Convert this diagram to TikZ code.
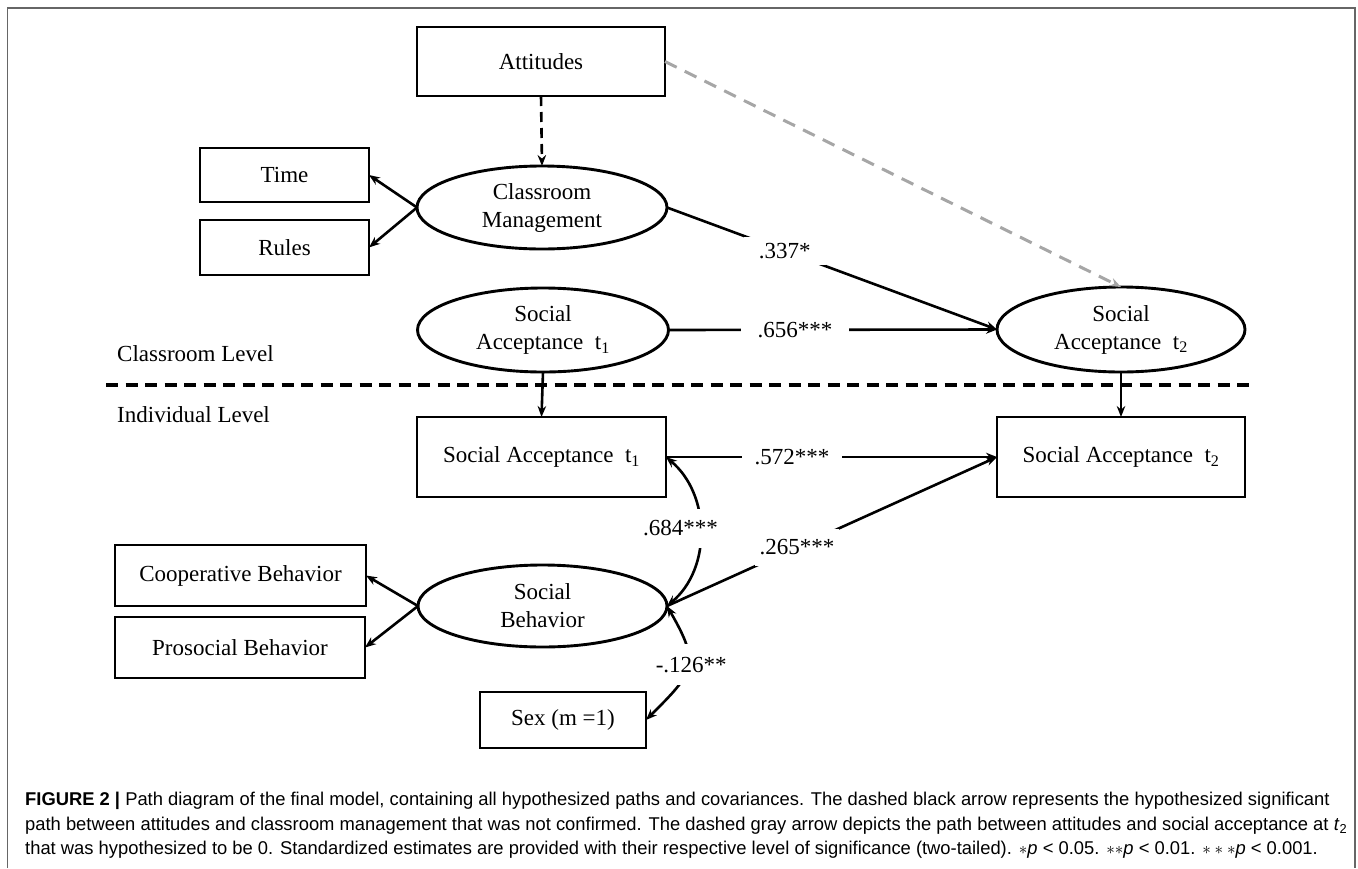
\documentclass[tikz,border=0pt]{standalone}
\usepackage{fontspec}
\usepackage{graphicx}
\setmainfont{Liberation Serif}
\newfontfamily\capfont{Liberation Sans}
\usetikzlibrary{shapes.geometric,arrows.meta}
\newlength\capw
\newcommand\capsz{\capfont\fontsize{18.5}{22}\selectfont}
\newcommand\captwo{path between attitudes and classroom management that was not confirmed. The dashed gray arrow depicts the path between attitudes and social acceptance at \textit{t}\textsubscript{2}}
\begin{document}
\settowidth\capw{\capsz\captwo}%
\pgfmathsetmacro\capxs{1322/(\capw/1pt)}%
\begin{tikzpicture}[x=1pt,y=-1pt,
  every node/.style={font=\fontsize{23}{28}\selectfont},
  box/.style={draw, line width=2.9pt, rectangle, inner sep=0pt, outer sep=0pt, align=center},
  latent/.style={draw, line width=2.9pt, ellipse, inner sep=0pt, outer sep=0pt, align=center},
  tipst/.style={-{Stealth[length=11pt,width=8.5pt]}},
  arr/.style={line width=2.6pt, tipst},
  cov/.style={line width=2.6pt, {Stealth[length=11pt,width=8.5pt]}-{Stealth[length=11pt,width=8.5pt]}},
  estlbl/.style={fill=white, inner xsep=6pt, inner ysep=4pt},
  levellbl/.style={anchor=west, inner sep=0pt},
  capline/.style={anchor=base west, inner sep=0pt},
]
\useasboundingbox (0,0) rectangle (1358,868);
% frame
\draw[line width=1.2pt, black!60] (7.5,868) -- (7.5,8) -- (1355,8) -- (1355,868);

% nodes
\node[box, minimum width=248pt, minimum height=69pt] (att) at (541,61.5) {Attitudes};
\node[latent, minimum width=250pt, minimum height=83pt] (cm) at (542,207.5) {Classroom\\Management};
\node[box, minimum width=169pt, minimum height=54pt] (time) at (284.5,175) {Time};
\node[box, minimum width=169pt, minimum height=55pt] (rules) at (284.5,247.5) {Rules};
\node[latent, minimum width=251pt, minimum height=84pt] (sa1e) at (543,330) {Social\\Acceptance\ \ t\textsubscript{1}};
\node[latent, minimum width=248pt, minimum height=85pt] (sa2e) at (1121,329.5) {Social\\Acceptance\ \ t\textsubscript{2}};
\node[box, minimum width=249pt, minimum height=80pt] (sa1b) at (541.5,457) {Social Acceptance\ \ t\textsubscript{1}};
\node[box, minimum width=248pt, minimum height=80pt] (sa2b) at (1121,457) {Social Acceptance\ \ t\textsubscript{2}};
\node[latent, minimum width=249pt, minimum height=82pt] (sb) at (542.5,606) {Social\\Behavior};
\node[box, minimum width=251pt, minimum height=61pt] (coop) at (240.5,575.5) {Cooperative Behavior};
\node[box, minimum width=250pt, minimum height=61pt] (pros) at (240,647.5) {Prosocial Behavior};
\node[box, minimum width=166pt, minimum height=56pt] (sex) at (563,720) {Sex (m =1)};

\node[levellbl] (clev) at (117,354) {Classroom Level};
\node[levellbl] (ilev) at (117,415) {Individual Level};

% level divider
\coordinate (divl) at (106,385);
\coordinate (divr) at (1252,385);
\draw[line width=3.6pt, dash pattern=on 12pt off 7.5pt] (divl) -- (divr);

% measurement arrows
\draw[arr] (cm.west) -- (time.east);
\draw[arr] (cm.west) -- (rules.east);
\draw[arr] (sb.west) -- (coop.east);
\draw[arr] (sb.west) -- (pros.east);
\draw[arr] (sa1e.south) -- (sa1b.north);
\draw[arr] (sa2e.south) -- (sa2b.north);

% hypothesized paths
\draw[line width=2.6pt, dash pattern=on 10pt off 6pt, tipst] (att.south) -- (cm.north);
\draw[line width=3pt, color=gray!70, dash pattern=on 13pt off 9pt, tipst] (att.east) -- (sa2e.north);

% structural paths with estimates
\draw[arr] (cm.east) -- node[estlbl, pos=0.357, inner xsep=15pt, inner ysep=6.5pt] (l337) {.337*} (sa2e.west);
\draw[arr] (sa1e.east) -- node[estlbl, pos=0.385, inner xsep=17pt] (l656) {.656***} (sa2e.west);
\draw[arr] (sa1b.east) -- node[estlbl, pos=0.381, inner xsep=13pt] (l572) {.572***} (sa2b.west);
\draw[arr] (sb.east) -- node[estlbl, pos=0.394, inner xsep=5pt, inner ysep=11pt] (l265) {.265***} (sa2b.west);

% covariances
\draw[cov] (sa1b.east) to[out=-40, in=40]
  node[estlbl, pos=0.5, xshift=-19.5pt, yshift=3pt, inner xsep=3pt, inner ysep=12pt] (l684) {.684***} (sb.east);
\draw[cov] (sb.east) to[out=-60, in=45, looseness=1.5]
  node[estlbl, pos=0.5, xshift=4pt, yshift=2.5pt, inner xsep=3pt, inner ysep=13pt] (l126) {-.126**} (sex.east);

% caption
\node[capline] (cap1) at (25,805) {\scalebox{\capxs}[1]{\capsz \textbf{FIGURE 2 |} Path diagram of the final model, containing all hypothesized paths and covariances. The dashed black arrow represents the hypothesized significant}};
\node[capline] (cap2) at (25,830) {\scalebox{\capxs}[1]{\capsz\captwo}};
\node[capline] (cap3) at (25,854) {\scalebox{\capxs}[1]{\capsz that was hypothesized to be 0. Standardized estimates are provided with their respective level of significance (two-tailed). $\ast$\textit{p} < 0.05. $\ast\ast$\textit{p} < 0.01. $\ast\ast\ast$\textit{p} < 0.001.}};
\end{tikzpicture}
\end{document}
